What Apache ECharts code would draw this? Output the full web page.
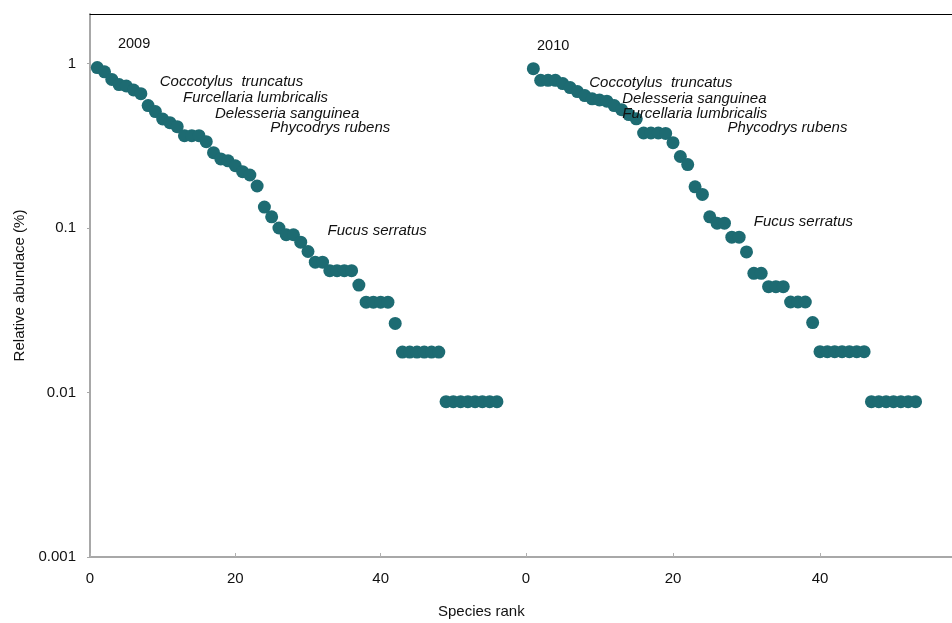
<!DOCTYPE html>
<html><head><meta charset="utf-8">
<script src="https://cdn.jsdelivr.net/npm/echarts@6/dist/echarts.min.js"></script>
<style>html,body{margin:0;padding:0;background:#fff}#c{width:952px;height:623px}</style>
</head><body><div id="c"></div>
<script>
// ---- data ----
var abund2009 = [0.945,0.89,0.80,0.745,0.73,0.69,0.656,0.555,0.51,0.46,0.437,0.413,0.364,0.364,0.364,0.335,0.287,0.263,0.256,0.239,0.22,0.21,0.18,0.134,0.117,0.10,0.091,0.091,0.082,0.072,0.062,0.062,0.055,0.055,0.055,0.055,0.045,0.0354,0.0354,0.0354,0.0354,0.0263,0.0176,0.0176,0.0176,0.0176,0.0176,0.0176,0.0088,0.0088,0.0088,0.0088,0.0088,0.0088,0.0088,0.0088];
var abund2010 = [0.93,0.79,0.79,0.79,0.755,0.714,0.675,0.638,0.61,0.60,0.59,0.555,0.524,0.489,0.461,0.378,0.378,0.378,0.376,0.33,0.272,0.243,0.178,0.16,0.117,0.107,0.107,0.088,0.088,0.0716,0.053,0.053,0.044,0.044,0.044,0.0355,0.0355,0.0355,0.0266,0.0177,0.0177,0.0177,0.0177,0.0177,0.0177,0.0177,0.0088,0.0088,0.0088,0.0088,0.0088,0.0088,0.0088];
var yTicks = [0.001, 0.01, 0.1, 1];
var xTicks = [0, 20, 40];
// annotations: [label, rank, abundance, italic]
var notes2009 = [["2009",3.85,1.31,false],["Coccotylus  truncatus",9.6,0.777,true],["Furcellaria lumbricalis",12.8,0.62,true],["Delesseria sanguinea",17.2,0.496,true],["Phycodrys rubens",24.8,0.407,true],["Fucus serratus",32.7,0.096,true]];
var notes2010 = [["2010",1.5,1.27,false],["Coccotylus  truncatus",8.6,0.766,true],["Delesseria sanguinea",13.1,0.612,true],["Furcellaria lumbricalis",13.1,0.496,true],["Phycodrys rubens",27.4,0.407,true],["Fucus serratus",31.0,0.109,true]];

var FONT = 'Liberation Sans, Arial, sans-serif';
var DOT = '#1d6b72';
var TXT = '#111';
function pts(arr){ return arr.map(function(v,i){ return [i+1, v]; }); }
function notes(arr){ return arr.map(function(n){ return {name:n[0], value:[n[1], n[2]],
  label:{fontStyle: n[3]?'italic':'normal', fontSize: n[3]?15:14.5, color:TXT}}; }); }

var chart = echarts.init(document.getElementById('c'), null, {renderer:'canvas'});
function xAx(grid, pos, line, showLab){
  return {type:'value', gridIndex:grid, position:pos, min:0, max:60, interval:20,
    axisLine:{show:true, lineStyle:{color:line, width: pos==='top'?1:2}},
    axisTick:{show:showLab, inside:true, length:4, lineStyle:{color:'#b0b0b0'}},
    axisLabel:{show:showLab, color:TXT, fontSize:15, fontFamily:FONT, margin:14, showMaxLabel:false,
      formatter:function(v){ return xTicks.indexOf(v)>=0 ? String(v) : ''; }},
    splitLine:{show:false}};
}
function yAx(grid, show){
  return {type:'log', gridIndex:grid, min:0.001, max:2, logBase:10, interval:1, show:show,
    name: show ? 'Relative abundace (%)' : '', nameLocation:'middle', nameGap:63, nameRotate:90,
    nameTextStyle:{color:TXT, fontSize:15, fontFamily:FONT},
    axisLine:{show:true, lineStyle:{color:'#a8a8a8', width:2}},
    axisTick:{show:true, length:3, lineStyle:{color:'#a8a8a8'}},
    axisLabel:{color:TXT, fontSize:15, fontFamily:FONT, margin:14, showMaxLabel:false,
      formatter:function(v){ for(var i=0;i<yTicks.length;i++){ if(Math.abs(v-yTicks[i])<yTicks[i]*1e-6) return String(yTicks[i]); } return ''; }},
    splitLine:{show:false}};
}
var noteLabel = {show:true, position:'right', distance:0, formatter:'{b}', color:TXT, fontSize:15, fontFamily:FONT, textBorderWidth:0};
chart.setOption({
  animation:false,
  backgroundColor:'#fff',
  grid:[{left:90, top:14, width:436, height:543, outerBoundsMode:'none', containLabel:false},
        {left:526, top:14, width:441, height:543, outerBoundsMode:'none', containLabel:false}],
  xAxis:[xAx(0,'bottom','#a8a8a8',true), xAx(1,'bottom','#a8a8a8',true), xAx(0,'top','#000',false), xAx(1,'top','#000',false)],
  yAxis:[yAx(0,true), yAx(1,false)],
  graphic:[{type:'text', left:438, top:604, style:{text:'Species rank', fill:TXT, font:'15px '+FONT}}],
  series:[
    {type:'scatter', xAxisIndex:0, yAxisIndex:0, symbolSize:13, itemStyle:{color:DOT, opacity:1}, data:pts(abund2009)},
    {type:'scatter', xAxisIndex:1, yAxisIndex:1, symbolSize:13, itemStyle:{color:DOT, opacity:1}, data:pts(abund2010)},
    {type:'scatter', xAxisIndex:0, yAxisIndex:0, symbolSize:0, itemStyle:{opacity:1}, label:noteLabel, data:notes(notes2009), silent:true},
    {type:'scatter', xAxisIndex:1, yAxisIndex:1, symbolSize:0, itemStyle:{opacity:1}, label:noteLabel, data:notes(notes2010), silent:true}
  ]
});
</script></body></html>
